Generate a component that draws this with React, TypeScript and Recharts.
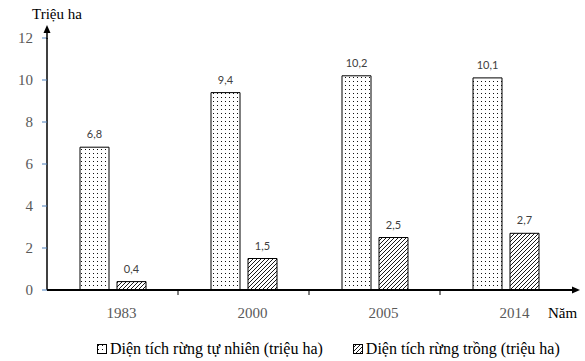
import React from 'react'
import { BarChart, Bar, XAxis, YAxis, Legend, LabelList } from 'recharts'

const years = ['1983', '2000', '2005', '2014']
const natural = [6.8, 9.4, 10.2, 10.1]
const planted = [0.4, 1.5, 2.5, 2.7]
const yTicks = [0, 2, 4, 6, 8, 10, 12]

const naturalName = 'Diện tích rừng tự nhiên (triệu ha)'
const plantedName = 'Diện tích rừng trồng (triệu ha)'

const data = years.map((year, i) => ({ year, natural: natural[i], planted: planted[i] }))

const W = 585
const H = 361
const serif = '"Liberation Serif", "Times New Roman", serif'
const band = (W - 47 - 14) / years.length

const fmt = (v: any) => String(v).replace('.', ',')

function XTick(props: any) {
  const { x, y, payload, index } = props
  return (
    <g>
      {index < years.length - 1 && (
        <line x1={x + band / 2} x2={x + band / 2} y1={y} y2={y + 5} stroke="#000" />
      )}
      <text x={x + 9} y={y + 28} textAnchor="middle" fontSize={15} fontFamily={serif} fill="#595959">
        {payload.value}
      </text>
    </g>
  )
}

function LegendBox() {
  const item = (fill: string, label: string) => (
    <div style={{ display: 'flex', alignItems: 'center' }}>
      <svg width={10} height={10} style={{ marginRight: 3 }}>
        <rect x={0.5} y={0.5} width={9} height={9} fill={fill} stroke="#000" />
      </svg>
      <span>{label}</span>
    </div>
  )
  return (
    <div
      style={{
        height: 41,
        paddingLeft: 97,
        paddingTop: 17,
        boxSizing: 'border-box',
        display: 'flex',
        gap: 30,
        fontFamily: serif,
        fontSize: 16,
        color: '#000',
        lineHeight: '16px'
      }}
    >
      {item('url(#dots)', naturalName)}
      {item('url(#hatch)', plantedName)}
    </div>
  )
}

export default function App() {
  return (
    <div style={{ position: 'absolute', left: 0, top: 0, width: W, height: H, background: '#fff' }}>
      <BarChart
        width={W}
        height={H}
        data={data}
        margin={{ top: 38, right: 14, left: 0, bottom: 0 }}
        barSize={29}
        barGap={8}
      >
        <defs>
          <pattern id="dots" width={4} height={4} patternUnits="userSpaceOnUse">
            <rect width={4} height={4} fill="#fff" />
            <rect x={1} y={1} width={1} height={1} fill="#111" />
          </pattern>
          <pattern id="hatch" width={4} height={4} patternUnits="userSpaceOnUse">
            <rect width={4} height={4} fill="#fff" />
            <path d="M-1,1 l2,-2 M0,4 l4,-4 M3,5 l2,-2" stroke="#000" strokeWidth={0.9} />
          </pattern>
        </defs>
        <XAxis
          dataKey="year"
          height={30}
          axisLine={{ stroke: '#000', strokeWidth: 2 }}
          tickLine={false}
          tickSize={0}
          tickMargin={0}
          tick={<XTick />}
          interval={0}
        />
        <YAxis
          width={47}
          domain={[0, 12]}
          ticks={yTicks}
          interval={0}
          axisLine={{ stroke: '#000', strokeWidth: 1.5 }}
          tickLine={{ stroke: '#4f81bd' }}
          tickSize={5}
          tickMargin={9}
          tick={{ fontSize: 15, fontFamily: serif, fill: '#595959' }}
        />
        <Legend verticalAlign="bottom" content={() => <LegendBox />} />
        <Bar dataKey="natural" name={naturalName} fill="url(#dots)" stroke="#000" strokeWidth={1} isAnimationActive={false}>
          <LabelList dataKey="natural" position="top" offset={9} formatter={fmt} style={{ fontSize: 11, fontFamily: 'Lato, sans-serif', fill: '#404040' }} />
        </Bar>
        <Bar dataKey="planted" name={plantedName} fill="url(#hatch)" stroke="#000" strokeWidth={1} isAnimationActive={false}>
          <LabelList dataKey="planted" position="top" offset={9} formatter={fmt} style={{ fontSize: 11, fontFamily: 'Lato, sans-serif', fill: '#404040' }} />
        </Bar>
      </BarChart>
      <svg width={W} height={H} style={{ position: 'absolute', left: 0, top: 0, pointerEvents: 'none' }}>
        <line x1={47} x2={47} y1={39} y2={31} stroke="#000" strokeWidth={1.5} />
        <polygon points="47,25 43.5,33 50.5,33" fill="#000" />
        <line x1={570} x2={574} y1={290} y2={290} stroke="#000" strokeWidth={2} />
        <polygon points="580,290 572,286.5 572,293.5" fill="#000" />
        <text x={32} y={19} fontSize={15} fontFamily={serif} fill="#000">Triệu ha</text>
        <text x={548} y={318} fontSize={15} fontFamily={serif} fill="#000">Năm</text>
      </svg>
    </div>
  )
}
